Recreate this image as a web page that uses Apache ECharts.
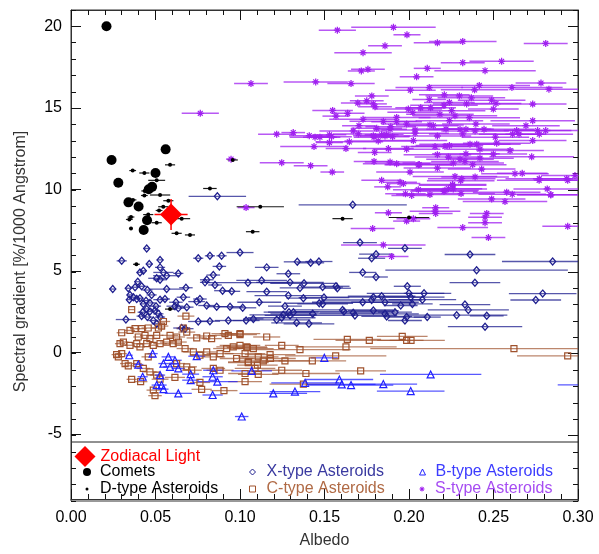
<!DOCTYPE html>
<html>
<head>
<meta charset="utf-8">
<script src="https://cdn.jsdelivr.net/npm/echarts@6/dist/echarts.min.js"></script>
<style>
  html, body { margin: 0; padding: 0; background: #fff; }
  #chart { width: 599px; height: 554px; }
</style>
</head>
<body>
<div id="chart"></div>
<script>
// each entry: [albedo, spectral gradient, albedo error (half width)]
const zodiacalLight = [[0.0592, 8.46, 0.0098, 0.95]];

const comets = [
    [0.021, 20.0], [0.024, 11.8], [0.056, 12.45], [0.050, 11.0], [0.028, 10.4],
    [0.046, 10.0], [0.048, 10.15], [0.034, 9.2], [0.040, 8.95], [0.045, 8.1], [0.043, 7.5]
];

const dTypes = [
    [0.0586, 11.5, 0.003], [0.0365, 11.15, 0.002], [0.0434, 11.0, 0.003], [0.0507, 10.55, 0.005],
    [0.0436, 9.9, 0.002], [0.0527, 9.65, 0.006], [0.0434, 9.62, 0.002], [0.0576, 9.3, 0.003],
    [0.0546, 8.93, 0.003], [0.0521, 8.7, 0.002], [0.0457, 8.45, 0.003], [0.0355, 8.3, 0.002],
    [0.0345, 8.15, 0.002], [0.0655, 8.2, 0.005], [0.0507, 7.95, 0.003], [0.0355, 7.6, 0.001],
    [0.0625, 7.3, 0.003], [0.0704, 7.2, 0.003], [0.0822, 10.05, 0.004], [0.1075, 7.4, 0.004],
    [0.112, 8.93, 0.014], [0.0387, 5.4, 0.002], [0.0586, 2.65, 0.003], [0.1607, 8.2, 0.006],
    [0.2, 8.27, 0.012], [0.0957, 11.8, 0.003], [0.0367, 9.35, 0.002]
];

const xTypes = [
    [0.0866, 9.57, 0.017], [0.1667, 9.05, 0.032], [0.171, 6.73, 0.01], [0.1976, 6.38, 0.01],
    [0.1805, 6.02, 0.01], [0.1779, 5.77, 0.008], [0.1, 6.12, 0.008], [0.1339, 5.55, 0.008],
    [0.1418, 5.49, 0.008], [0.1467, 5.57, 0.008], [0.1158, 5.21, 0.007], [0.1286, 4.82, 0.007],
    [0.1726, 4.9, 0.008], [0.1805, 4.62, 0.007], [0.1128, 4.41, 0.015], [0.1047, 4.27, 0.025],
    [0.1296, 4.29, 0.02], [0.1379, 4.23, 0.02], [0.1355, 3.95, 0.012], [0.1489, 4.0, 0.012],
    [0.1568, 4.05, 0.008], [0.1576, 3.93, 0.008], [0.199, 4.05, 0.008], [0.1158, 3.72, 0.012],
    [0.2, 3.62, 0.025], [0.2089, 3.62, 0.012], [0.201, 3.38, 0.02], [0.2079, 3.23, 0.02],
    [0.1286, 3.48, 0.02], [0.1375, 3.32, 0.01], [0.1497, 3.36, 0.015], [0.1789, 3.38, 0.03],
    [0.1838, 3.44, 0.02], [0.1779, 3.21, 0.03], [0.1858, 3.07, 0.02], [0.1114, 3.07, 0.013],
    [0.1469, 3.01, 0.02], [0.1489, 2.97, 0.015], [0.1726, 3.07, 0.03], [0.1951, 2.87, 0.01],
    [0.202, 2.97, 0.012], [0.1016, 2.73, 0.008], [0.1266, 2.83, 0.01], [0.1607, 2.6, 0.03],
    [0.1615, 2.5, 0.03], [0.129, 2.46, 0.015], [0.1316, 2.46, 0.015], [0.1256, 2.3, 0.02],
    [0.1296, 2.26, 0.015], [0.1247, 2.12, 0.02], [0.1217, 1.99, 0.02], [0.143, 2.36, 0.025],
    [0.167, 2.42, 0.02], [0.168, 2.26, 0.025], [0.1789, 2.56, 0.015], [0.1858, 2.36, 0.02],
    [0.1868, 2.2, 0.015], [0.1917, 2.46, 0.01], [0.1986, 2.16, 0.012], [0.1976, 1.95, 0.01],
    [0.2108, 2.16, 0.008], [0.1036, 1.95, 0.008], [0.1335, 1.81, 0.015], [0.1408, 1.75, 0.015],
    [0.2361, 6.0, 0.015], [0.285, 5.57, 0.03], [0.24, 5.04, 0.054], [0.239, 4.27, 0.015],
    [0.2791, 3.6, 0.02], [0.275, 3.21, 0.015], [0.2331, 2.93, 0.015], [0.2351, 2.6, 0.024],
    [0.2282, 2.28, 0.03], [0.246, 2.24, 0.01], [0.245, 1.57, 0.022],
    [0.0448, 6.37, 0.002], [0.03, 5.61, 0.003], [0.0463, 5.41, 0.002], [0.0527, 5.67, 0.002],
    [0.0753, 5.77, 0.003], [0.0822, 5.92, 0.003], [0.0891, 5.92, 0.003], [0.0878, 5.27, 0.004],
    [0.0527, 5.21, 0.003], [0.0428, 5.0, 0.002], [0.0408, 4.9, 0.002], [0.0547, 4.9, 0.006],
    [0.0566, 4.7, 0.008], [0.0507, 4.54, 0.005], [0.0527, 4.45, 0.004], [0.0635, 4.84, 0.003],
    [0.0842, 4.74, 0.004], [0.0803, 4.45, 0.004], [0.0793, 4.29, 0.003], [0.0852, 4.13, 0.004],
    [0.0395, 4.33, 0.002], [0.0247, 3.88, 0.002], [0.0339, 3.93, 0.002], [0.0379, 3.99, 0.003],
    [0.0418, 4.05, 0.003], [0.0452, 3.82, 0.003], [0.0566, 3.88, 0.01], [0.068, 3.96, 0.004],
    [0.0897, 3.78, 0.005], [0.0951, 3.74, 0.005], [0.0349, 3.52, 0.002], [0.0369, 3.38, 0.002],
    [0.0389, 3.27, 0.002], [0.0408, 3.32, 0.002], [0.0345, 3.23, 0.002], [0.0477, 3.52, 0.003],
    [0.0444, 3.17, 0.003], [0.0467, 3.03, 0.003], [0.0527, 3.23, 0.004], [0.0503, 2.83, 0.003],
    [0.0556, 3.27, 0.003], [0.0621, 3.07, 0.004], [0.0665, 3.38, 0.004], [0.0763, 3.27, 0.004],
    [0.0744, 3.11, 0.005], [0.0428, 2.97, 0.002], [0.0448, 2.66, 0.003], [0.0424, 2.46, 0.003],
    [0.0467, 2.5, 0.003], [0.0418, 2.22, 0.003], [0.0452, 2.16, 0.003], [0.0497, 2.56, 0.003],
    [0.0517, 2.36, 0.003], [0.0527, 2.16, 0.003], [0.0325, 2.01, 0.006], [0.0487, 1.95, 0.003],
    [0.0507, 1.75, 0.003], [0.0615, 2.83, 0.005], [0.0635, 2.71, 0.004], [0.0685, 2.77, 0.004],
    [0.0803, 2.87, 0.005], [0.0862, 2.8, 0.006], [0.0941, 2.8, 0.008], [0.0753, 1.89, 0.006],
    [0.0822, 1.91, 0.006], [0.0931, 1.95, 0.008], [0.1079, 2.05, 0.006], [0.0655, 1.49, 0.005],
    [0.0675, 1.45, 0.005]
];

const cTypes = [
    [0.0359, 2.62, 0.002], [0.03, 1.2, 0.003], [0.0349, 1.34, 0.003], [0.0379, 1.45, 0.003],
    [0.0418, 1.45, 0.003], [0.0457, 1.49, 0.004], [0.0517, 1.49, 0.004], [0.0536, 1.61, 0.004],
    [0.0547, 1.89, 0.004], [0.068, 2.22, 0.005], [0.0665, 1.49, 0.004], [0.0685, 1.24, 0.005],
    [0.0744, 0.88, 0.006], [0.0803, 1.0, 0.006], [0.0832, 0.84, 0.006], [0.0911, 1.14, 0.008],
    [0.1, 1.08, 0.01], [0.0931, 1.04, 0.008], [0.029, 0.53, 0.003], [0.031, 0.63, 0.003],
    [0.0349, 0.43, 0.003], [0.0389, 0.53, 0.003], [0.0408, 0.33, 0.003], [0.0448, 0.53, 0.003],
    [0.0487, 0.43, 0.003], [0.0527, 0.53, 0.004], [0.0566, 0.63, 0.004], [0.0605, 0.53, 0.005],
    [0.0635, 0.63, 0.005], [0.0398, 0.94, 0.003], [0.0438, 1.04, 0.003], [0.0467, 0.84, 0.004],
    [0.0507, 1.04, 0.004], [0.0586, 1.04, 0.005], [0.0625, 0.94, 0.005], [0.028, -0.28, 0.003],
    [0.027, -0.14, 0.003], [0.03, -0.08, 0.003], [0.032, -0.69, 0.003], [0.0339, -0.83, 0.003],
    [0.0389, -0.69, 0.003], [0.0359, -1.66, 0.003], [0.0412, -1.8, 0.004], [0.0457, -0.28, 0.004],
    [0.0428, -0.99, 0.004], [0.0467, -1.2, 0.004], [0.0507, -1.4, 0.004], [0.0527, -1.65, 0.005],
    [0.0487, -2.32, 0.004], [0.0497, -2.66, 0.004], [0.0615, -1.54, 0.006], [0.0763, -1.85, 0.006],
    [0.0773, -2.27, 0.006], [0.0905, -2.35, 0.008], [0.0675, 0.23, 0.005], [0.0724, 0.02, 0.006],
    [0.0763, -0.18, 0.006], [0.0803, 0.02, 0.006], [0.0842, -0.28, 0.007], [0.0882, -0.08, 0.008],
    [0.0921, 0.23, 0.008], [0.096, 0.33, 0.01], [0.1, 0.43, 0.012], [0.104, 0.33, 0.012],
    [0.1079, 0.23, 0.012], [0.098, -0.38, 0.01], [0.1049, -0.59, 0.012], [0.0625, -0.69, 0.005],
    [0.0685, -0.89, 0.006], [0.0714, -1.1, 0.006], [0.0842, -0.99, 0.007], [0.0882, -1.1, 0.008],
    [0.1, 1.14, 0.012], [0.1158, 0.94, 0.008], [0.1635, 0.79, 0.02], [0.1765, 0.73, 0.02],
    [0.196, 0.98, 0.015], [0.1986, 0.73, 0.01], [0.2012, 0.73, 0.02], [0.1247, 0.43, 0.01],
    [0.1355, 0.16, 0.03], [0.1627, 0.33, 0.03], [0.1043, 0.29, 0.012], [0.103, -0.08, 0.012],
    [0.1178, -0.14, 0.015], [0.118, -0.38, 0.015], [0.1108, -0.28, 0.012], [0.1138, -0.52, 0.015],
    [0.1266, -0.52, 0.015], [0.1049, -0.63, 0.012], [0.1103, -0.79, 0.012], [0.1089, -0.99, 0.012],
    [0.103, -1.3, 0.01], [0.1108, -1.36, 0.012], [0.103, -1.8, 0.01], [0.1428, -0.52, 0.02],
    [0.1566, -0.22, 0.03], [0.1247, -1.1, 0.012], [0.139, -1.3, 0.02], [0.1714, -1.14, 0.015],
    [0.1375, -1.95, 0.02], [0.2621, 0.23, 0.085], [0.2939, -0.22, 0.03]
];

const bTypes = [
    [0.0345, -0.18, 0.002], [0.0398, -0.75, 0.003], [0.0424, -1.5, 0.003], [0.0483, -0.08, 0.003],
    [0.0547, -0.69, 0.003], [0.0576, -0.28, 0.004], [0.0615, -0.49, 0.004], [0.0586, -0.89, 0.004],
    [0.0635, -0.99, 0.004], [0.0744, -0.24, 0.005], [0.0527, -1.4, 0.003], [0.0708, -1.34, 0.005],
    [0.0708, -1.71, 0.005], [0.0842, -1.1, 0.006], [0.0838, -1.5, 0.006], [0.0866, -1.8, 0.012],
    [0.0507, -2.01, 0.003], [0.0536, -2.01, 0.003], [0.0547, -2.26, 0.003], [0.0635, -2.52, 0.008],
    [0.0838, -2.62, 0.006], [0.101, -3.94, 0.004], [0.1499, -0.34, 0.008], [0.1069, -1.14, 0.012],
    [0.1385, -1.87, 0.02], [0.1588, -1.67, 0.02], [0.1602, -1.97, 0.02], [0.1657, -2.01, 0.025],
    [0.1848, -1.95, 0.02], [0.2128, -1.36, 0.03], [0.201, -2.38, 0.02], [0.1325, -2.41, 0.015],
    [0.1197, -2.52, 0.02], [0.308, -2.0, 0.02]
];

const sTypes = [
    [0.1065, 16.49, 0.01], [0.0765, 14.66, 0.011], [0.0947, 11.85, 0.003], [0.1036, 8.88, 0.005],
    [0.1576, 19.76, 0.011], [0.1908, 19.94, 0.025], [0.1988, 19.48, 0.008], [0.1858, 18.8, 0.01],
    [0.1728, 18.38, 0.017], [0.1757, 17.36, 0.01], [0.1718, 17.26, 0.008], [0.1448, 16.59, 0.019],
    [0.1657, 16.49, 0.014], [0.2045, 16.9, 0.01], [0.2008, 16.08, 0.015], [0.178, 15.73, 0.01],
    [0.175, 15.43, 0.01], [0.1697, 15.29, 0.01], [0.1789, 15.24, 0.008], [0.1548, 14.84, 0.012],
    [0.1568, 14.49, 0.008], [0.1637, 14.66, 0.01], [0.1996, 14.92, 0.02], [0.1927, 14.41, 0.02],
    [0.1848, 14.17, 0.02], [0.1728, 14.29, 0.02], [0.1704, 13.9, 0.01], [0.1892, 13.84, 0.015],
    [0.1809, 13.74, 0.015], [0.1986, 14.0, 0.015], [0.167, 13.58, 0.02], [0.17, 13.4, 0.015],
    [0.1217, 13.38, 0.011], [0.1315, 13.48, 0.007], [0.141, 13.29, 0.012], [0.1444, 13.2, 0.015],
    [0.1542, 13.23, 0.012], [0.1529, 12.87, 0.008], [0.1647, 12.91, 0.02], [0.1793, 13.2, 0.012],
    [0.1858, 13.27, 0.015], [0.1818, 12.97, 0.02], [0.2036, 13.44, 0.02], [0.2026, 12.99, 0.02],
    [0.1438, 12.62, 0.02], [0.1627, 12.5, 0.012], [0.1878, 12.5, 0.015], [0.1986, 12.46, 0.02],
    [0.1797, 12.26, 0.01], [0.1247, 11.63, 0.013], [0.1418, 11.45, 0.01], [0.1546, 11.06, 0.007],
    [0.1793, 11.71, 0.012], [0.1888, 11.67, 0.015], [0.1927, 11.57, 0.02], [0.2055, 11.5, 0.02],
    [0.2006, 11.06, 0.02], [0.1838, 10.55, 0.012], [0.1947, 10.43, 0.01], [0.1967, 10.35, 0.01],
    [0.1874, 10.15, 0.008], [0.2055, 9.98, 0.015], [0.1979, 9.72, 0.012], [0.2016, 9.62, 0.012],
    [0.2168, 18.99, 0.014], [0.2318, 19.07, 0.02], [0.2809, 18.95, 0.013], [0.2318, 17.77, 0.013],
    [0.2548, 17.85, 0.019], [0.2108, 17.42, 0.008], [0.245, 17.28, 0.03], [0.2416, 16.37, 0.03],
    [0.2781, 16.52, 0.015], [0.212, 16.24, 0.02], [0.2388, 16.1, 0.02], [0.2609, 16.24, 0.03],
    [0.2828, 16.14, 0.02], [0.2209, 15.8, 0.015], [0.2298, 15.73, 0.02], [0.212, 15.51, 0.01],
    [0.2369, 15.61, 0.02], [0.2489, 15.47, 0.02], [0.2239, 15.33, 0.015], [0.2341, 15.24, 0.02],
    [0.2515, 15.27, 0.015], [0.2732, 15.23, 0.02], [0.2207, 15.16, 0.02], [0.2069, 15.0, 0.015],
    [0.2128, 15.0, 0.015], [0.2499, 14.92, 0.015], [0.2252, 14.82, 0.02], [0.2022, 14.72, 0.015],
    [0.2183, 14.6, 0.02], [0.2272, 14.51, 0.025], [0.2357, 14.39, 0.03], [0.2239, 14.21, 0.02],
    [0.2732, 14.21, 0.025], [0.2124, 13.95, 0.02], [0.2144, 13.9, 0.015], [0.2396, 14.0, 0.02],
    [0.2692, 13.9, 0.02], [0.2219, 13.7, 0.02], [0.2302, 13.68, 0.02], [0.2337, 13.68, 0.015],
    [0.2391, 13.58, 0.02], [0.2444, 13.68, 0.03], [0.2637, 13.6, 0.02], [0.2761, 13.6, 0.02],
    [0.2809, 13.6, 0.02], [0.2036, 13.64, 0.02], [0.2168, 13.27, 0.02], [0.2318, 13.4, 0.02],
    [0.2511, 13.2, 0.02], [0.2613, 13.38, 0.02], [0.2651, 13.38, 0.015], [0.2771, 13.38, 0.02],
    [0.2519, 12.83, 0.02], [0.2239, 12.68, 0.02], [0.2361, 12.77, 0.03], [0.2401, 12.77, 0.02],
    [0.2732, 12.99, 0.02], [0.2154, 12.62, 0.02], [0.2213, 12.62, 0.02], [0.242, 12.46, 0.02],
    [0.2598, 12.38, 0.02], [0.2337, 12.18, 0.02], [0.2499, 12.16, 0.02], [0.2168, 12.12, 0.02],
    [0.2233, 11.98, 0.02], [0.242, 11.91, 0.02], [0.2726, 11.99, 0.025], [0.2302, 11.85, 0.02],
    [0.2331, 11.71, 0.02], [0.2262, 11.61, 0.03], [0.2061, 11.52, 0.02], [0.2377, 11.51, 0.02],
    [0.2168, 11.3, 0.02], [0.243, 11.24, 0.02], [0.2627, 10.96, 0.02], [0.267, 10.98, 0.015],
    [0.2982, 10.84, 0.02], [0.2272, 10.79, 0.025], [0.2312, 10.65, 0.02], [0.2391, 10.76, 0.02],
    [0.2771, 10.65, 0.02], [0.2933, 10.65, 0.02], [0.2258, 10.29, 0.02], [0.2213, 9.94, 0.02],
    [0.2233, 10.04, 0.02], [0.2818, 10.02, 0.02], [0.2124, 9.68, 0.02], [0.2308, 9.74, 0.02],
    [0.2578, 9.82, 0.02], [0.2611, 9.7, 0.02], [0.284, 9.66, 0.02], [0.2489, 9.41, 0.02],
    [0.2306, 10.53, 0.02], [0.277, 10.55, 0.025], [0.2939, 10.55, 0.02], [0.2258, 10.25, 0.02],
    [0.2207, 9.88, 0.02], [0.2262, 10.02, 0.02], [0.2838, 9.66, 0.02], [0.2568, 9.25, 0.025],
    [0.2158, 8.87, 0.008], [0.2158, 8.52, 0.01], [0.246, 8.52, 0.01], [0.245, 8.29, 0.01],
    [0.245, 7.95, 0.01], [0.2318, 7.65, 0.015], [0.2939, 7.73, 0.015], [0.247, 7.04, 0.01],
    [0.1878, 8.56, 0.008], [0.2026, 8.2, 0.01], [0.1986, 8.05, 0.008], [0.2154, 8.66, 0.015],
    [0.1785, 7.59, 0.013], [0.1848, 6.59, 0.025], [0.1897, 5.88, 0.01], [0.1799, 15.06, 0.01],
    [0.1927, 14.15, 0.015], [0.1888, 13.68, 0.01], [0.1473, 13.2, 0.01], [0.1529, 13.34, 0.01],
    [0.1789, 13.29, 0.012], [0.1838, 13.34, 0.01], [0.1868, 13.34, 0.01], [0.1903, 13.23, 0.01]
];

const yMajorTicks = [-5, 0, 5, 10, 15, 20];

const FONT = '"Liberation Sans", Arial, sans-serif';
const RED = '#ff0000', NAVY = '#1f1f8f', BROWN = '#a0522d', BLUE = '#2020ff', PURPLE = '#a020f0';
const TICK = '#111';

const asterisk = 'path://M-0.9,-5L0.9,-5L0.9,5L-0.9,5Z M-5,-0.9L5,-0.9L5,0.9L-5,0.9Z ' +
    'M-4.1,-2.9L-2.9,-4.1L4.1,2.9L2.9,4.1Z M2.9,-4.1L4.1,-2.9L-2.9,4.1L-4.1,2.9Z';

function errorBars(name, data, color, opacity, width) {
    return {
        name: name,
        type: 'custom',
        data: data,
        encode: { x: 0, y: 1 },
        clip: true,
        silent: true,
        renderItem: function (params, api) {
            var x = api.value(0), y = api.value(1), e = api.value(2);
            var a = api.coord([x - e, y]);
            var b = api.coord([x + e, y]);
            return {
                type: 'line',
                shape: { x1: a[0], y1: a[1], x2: b[0], y2: b[1] },
                style: { stroke: color, lineWidth: width, opacity: opacity }
            };
        }
    };
}

function markers(name, data, symbol, size, style) {
    style.opacity = 1;
    return {
        name: name,
        type: 'scatter',
        data: data,
        symbol: symbol,
        symbolSize: size,
        clip: true,
        itemStyle: style,
        emphasis: { disabled: true }
    };
}

function hollow(color, w) {
    return { color: 'rgba(0,0,0,0)', borderColor: color, borderWidth: w, opacity: 1 };
}

// icon of size s centred at cx; text should start at textX
function legendEntry(name, color, cx, cy, s, textX, style) {
    var left = cx - s / 2;
    var pad = Math.max(0, textX - (left + s + 5));
    return {
        data: [{ name: name, textStyle: { color: color }, itemStyle: style }],
        left: left, top: cy - 8, padding: 0,
        itemWidth: s, itemHeight: s,
        selectedMode: false,
        textStyle: { fontFamily: FONT, fontSize: 16, lineHeight: 16, padding: [0, 0, 0, pad] }
    };
}

// one x and one y axis per grid; grids 1-3 only carry frame ticks
function yMajor(grid, pos, showLabel) {
    return {
        gridIndex: grid, type: 'value', min: -9, max: 21, position: pos,
        axisLine: { show: true, onZero: false, lineStyle: { color: '#333', width: 1 } },
        axisTick: { show: true, inside: true, length: 10, customValues: yMajorTicks, lineStyle: { color: TICK } },
        axisLabel: { show: showLabel, customValues: yMajorTicks, fontSize: 16, color: '#000', fontFamily: FONT, margin: 9 },
        splitLine: { show: false }
    };
}

function yMinor(grid, pos) {
    return {
        gridIndex: grid, type: 'value', min: -9, max: 21, interval: 1, position: pos,
        axisLine: { show: false, onZero: false },
        axisTick: { show: true, inside: true, length: 5, lineStyle: { color: TICK } },
        axisLabel: { show: false },
        splitLine: { show: false }
    };
}

function xMajor(grid, pos, showLabel) {
    return {
        gridIndex: grid, type: 'value', min: 0, max: 0.30, interval: 0.05, position: pos,
        axisLine: { show: true, onZero: false, lineStyle: { color: '#333', width: 1 } },
        axisTick: { show: true, inside: true, length: 10, lineStyle: { color: TICK } },
        minorTick: { show: true, splitNumber: 5, length: 5, lineStyle: { color: TICK } },
        axisLabel: { show: showLabel, formatter: function (v) { return v.toFixed(2); },
            fontSize: 16, color: '#000', fontFamily: FONT, margin: 11 },
        splitLine: { show: false }
    };
}

function xHidden(grid) {
    return { gridIndex: grid, type: 'value', min: 0, max: 0.30, show: false };
}

function frameHolder(i) {
    return { type: 'scatter', data: [], xAxisIndex: i, yAxisIndex: i, silent: true };
}

var chart = echarts.init(document.getElementById('chart'), null, { renderer: 'canvas' });

var yLeft = yMajor(0, 'left', true);
yLeft.name = 'Spectral gradient [%/1000 Angstrom]';
yLeft.nameLocation = 'middle';
yLeft.nameGap = 42;
yLeft.nameTextStyle = { fontSize: 16, color: '#333', fontFamily: FONT, padding: [0, 14, 0, 0] };

var xBottom = xMajor(0, 'bottom', true);
xBottom.name = 'Albedo';
xBottom.nameLocation = 'middle';
xBottom.nameGap = 34;
xBottom.nameTextStyle = { fontSize: 16, color: '#333', fontFamily: FONT };

var box = { left: 71, right: 21, top: 10, bottom: 53 };

chart.setOption({
    animation: false,
    backgroundColor: '#fff',
    grid: [box, box, box, box],
    xAxis: [xBottom, xMajor(1, 'top', false), xHidden(2), xHidden(3)],
    yAxis: [yLeft, yMajor(1, 'right', false), yMinor(2, 'left'), yMinor(3, 'right')],
    graphic: [
        {
            type: 'rect',
            shape: { x: 71, y: 10, width: 507, height: 491 },
            style: { fill: 'none', stroke: '#333', lineWidth: 1 },
            silent: true
        },
        {
            type: 'line',
            shape: { x1: 71, y1: 442, x2: 578, y2: 442 },
            style: { stroke: '#222', lineWidth: 1 },
            silent: true
        }
    ],
    legend: [
        legendEntry('Zodiacal Light', RED, 85, 454, 21, 100, { color: RED, opacity: 1 }),
        legendEntry('Comets', '#000', 87, 472, 8, 100, { color: '#000', opacity: 1 }),
        legendEntry('D-type Asteroids', '#000', 87, 489, 3, 100, { color: '#000', opacity: 1 }),
        legendEntry('X-type Asteroids', '#3a3aa0', 252, 472, 6, 266, hollow(NAVY, 1)),
        legendEntry('C-type Asteroids', '#b06a45', 252, 489, 6, 266, hollow(BROWN, 1)),
        legendEntry('B-type Asteroids', '#3c3cff', 422, 472, 6, 435, hollow(BLUE, 1)),
        legendEntry('S-type Asteroids', '#a64cf2', 422, 489, 5, 435, { color: PURPLE, opacity: 1 })
    ],
    series: [
        frameHolder(1), frameHolder(2), frameHolder(3),
        errorBars('X-type errors', xTypes, NAVY, 0.75, 1.3),
        markers('X-type Asteroids', xTypes, 'diamond', [6, 7], hollow(NAVY, 1.3)),
        errorBars('C-type errors', cTypes, BROWN, 0.7, 1.3),
        markers('C-type Asteroids', cTypes, 'rect', 6, hollow(BROWN, 1.2)),
        errorBars('B-type errors', bTypes, BLUE, 0.75, 1.3),
        markers('B-type Asteroids', bTypes, 'triangle', 7, hollow(BLUE, 1.2)),
        errorBars('S-type errors', sTypes, PURPLE, 0.75, 1.5),
        markers('S-type Asteroids', sTypes, asterisk, 7, { color: PURPLE }),
        errorBars('D-type errors', dTypes, '#000', 0.9, 1.2),
        markers('D-type Asteroids', dTypes, 'circle', 4, { color: '#000' }),
        markers('Comets', comets, 'circle', 10, { color: '#000' }),
        {
            name: 'Zodiacal errors',
            type: 'custom',
            data: zodiacalLight,
            encode: { x: 0, y: 1 },
            silent: true,
            renderItem: function (params, api) {
                var x = api.value(0), y = api.value(1), ex = api.value(2), ey = api.value(3);
                var l = api.coord([x - ex, y]), r = api.coord([x + ex, y]);
                var t = api.coord([x, y + ey]), b = api.coord([x, y - ey]);
                return {
                    type: 'group',
                    children: [
                        { type: 'line', shape: { x1: l[0], y1: l[1], x2: r[0], y2: r[1] }, style: { stroke: RED, lineWidth: 1.5 } },
                        { type: 'line', shape: { x1: t[0], y1: t[1], x2: b[0], y2: b[1] }, style: { stroke: RED, lineWidth: 1.5 } }
                    ]
                };
            }
        },
        markers('Zodiacal Light', zodiacalLight, 'diamond', 22, { color: RED })
    ]
});
</script>
</body>
</html>
